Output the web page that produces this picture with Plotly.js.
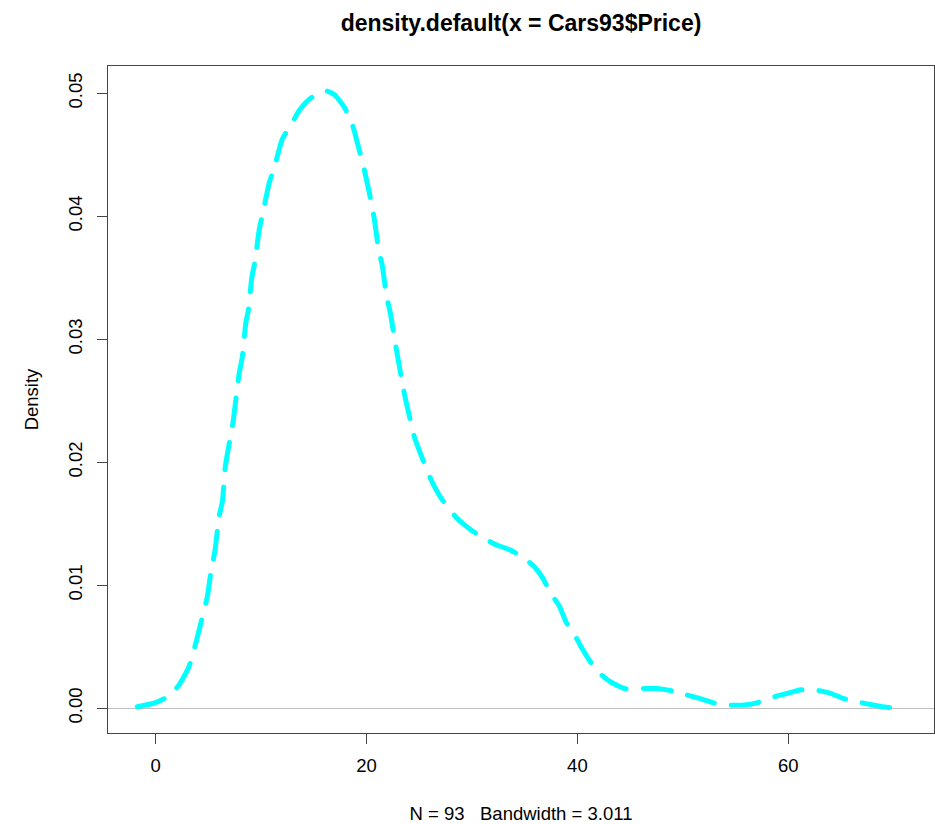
<!DOCTYPE html>
<html><head><meta charset="utf-8">
<script src="https://cdn.plot.ly/plotly-3.0.1.min.js"></script>
<style>
html,body{margin:0;padding:0;background:#fff;}
#chart{width:935px;height:824px;}
.scatterlayer .js-line{stroke-linecap:round;}
</style></head><body><div id="chart"></div>
<script>
// Density estimate of Cars93$Price
const priceX = [-1.75,-0.16,1.26,2.21,3.16,3.80,4.27,4.90,5.22,5.63,6.01,6.32,6.58,6.80,7.34,7.60,7.91,8.22,8.54,8.79,9.11,9.43,9.81,10.12,10.76,11.23,12.02,12.82,13.61,14.55,15.50,16.14,16.93,17.87,18.67,19.30,19.78,20.41,20.73,21.13,21.51,21.89,22.24,22.72,23.03,23.51,23.89,24.52,25.16,26.11,27.06,28.63,29.91,31.17,32.28,33.54,34.80,35.92,36.70,37.50,38.29,38.93,39.72,40.35,41.14,41.93,43.04,44.47,45.89,47.47,49.05,50.32,51.58,52.84,54.12,55.85,57.11,58.54,59.87,61.24,62.50,64.08,65.19,66.46,68.03,69.31,70.93];
const densityY = [0.00013,0.00041,0.0010,0.0019,0.0034,0.0053,0.0069,0.0091,0.0110,0.0129,0.0156,0.0168,0.0195,0.0207,0.0233,0.0251,0.0272,0.0286,0.0313,0.0324,0.0350,0.0364,0.0389,0.0401,0.0427,0.0439,0.0463,0.0474,0.0486,0.0495,0.0500,0.0502,0.0499,0.0489,0.0474,0.0454,0.0438,0.0413,0.0398,0.0374,0.0359,0.0335,0.0322,0.0297,0.0282,0.0259,0.0244,0.0221,0.0206,0.0186,0.0171,0.0154,0.0145,0.0138,0.0133,0.0129,0.0123,0.0115,0.0106,0.0093,0.0083,0.0070,0.0060,0.0050,0.0039,0.0030,0.0022,0.0016,0.0016,0.0016,0.0014,0.0011,0.0008,0.00046,0.00027,0.00027,0.00046,0.0009,0.0012,0.0015,0.0015,0.0012,0.0008,0.00054,0.00027,0.00008,0.00005];
const xTickVals = [0, 20, 40, 60];
const xTickText = ["0", "20", "40", "60"];
const yTickVals = [0, 0.01, 0.02, 0.03, 0.04, 0.05];
const yTickText = ["0.00", "0.01", "0.02", "0.03", "0.04", "0.05"];
const chartTitle = "density.default(x = Cars93$Price)";
const xLabel = "N = 93 \u00a0 Bandwidth = 3.011";
const yLabel = "Density";

const FONT = "Liberation Sans, Arial, sans-serif";
const trace = {
  type: "scatter", mode: "lines",
  x: priceX, y: densityY,
  line: {color: "#00FFFF", width: 5, dash: "28px,17px", shape: "spline", smoothing: 0.6},
  hoverinfo: "skip", showlegend: false
};
const axisCommon = {
  showgrid: false, showline: true, mirror: true, linecolor: "#444", linewidth: 1,
  ticks: "outside", ticklen: 10, tickwidth: 1, tickcolor: "#444",
  tickfont: {family: FONT, size: 18.5, color: "#000"}, fixedrange: true
};
const layout = {
  width: 935, height: 824,
  margin: {l: 108, r: 1, t: 66, b: 91},
  paper_bgcolor: "#fff", plot_bgcolor: "#fff",
  font: {family: FONT, color: "#000"},
  title: {text: chartTitle, font: {family: FONT, size: 23, color: "#000", weight: "bold"},
          x: 0.5, xref: "paper", y: 1 - 23/824, yref: "container", yanchor: "middle"},
  xaxis: Object.assign({}, axisCommon, {
    range: [-4.53, 73.83], tickvals: xTickVals, ticktext: xTickText, zeroline: false,
    ticklabelstandoff: 6,
    title: {text: xLabel, font: {family: FONT, size: 18.5, color: "#000"}, standoff: 31}
  }),
  yaxis: Object.assign({}, axisCommon, {
    range: [-0.00201, 0.05222], tickvals: yTickVals, ticktext: yTickText, tickangle: -90,
    zeroline: true, zerolinecolor: "#BEBEBE", zerolinewidth: 1.5,
    ticklabelstandoff: 8,
    title: {text: yLabel, font: {family: FONT, size: 18.5, color: "#000"}, standoff: 21}
  })
};
Plotly.newPlot("chart", [trace], layout, {displayModeBar: false, staticPlot: true});
</script></body></html>
